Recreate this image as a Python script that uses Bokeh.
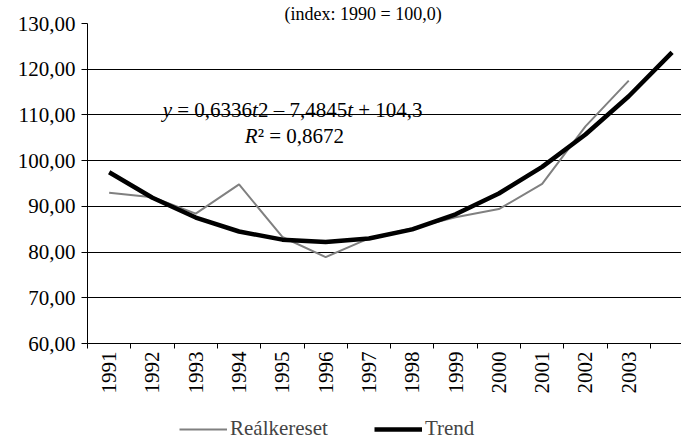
import math
from bokeh.plotting import figure
from bokeh.layouts import column
from bokeh.models import FixedTicker, Label, Legend, LegendItem, Range1d
from bokeh.embed import file_html
from bokeh.resources import INLINE

# ---------------- data ----------------
years = ["1991", "1992", "1993", "1994", "1995", "1996", "1997",
         "1998", "1999", "2000", "2001", "2002", "2003"]
t_real = list(range(1, 14))
realkereset = [93.0, 92.0, 88.4, 94.8, 83.3, 78.9, 83.0,
               85.2, 87.6, 89.4, 94.9, 107.5, 117.5]
t_trend = list(range(1, 15))
trend = [97.45, 91.87, 87.55, 84.50, 82.72, 82.20, 82.96,
         84.97, 88.26, 92.81, 98.64, 105.73, 114.08, 123.70]
y_ticks = [60, 70, 80, 90, 100, 110, 120, 130]
y_tick_labels = ["60,00", "70,00", "80,00", "90,00", "100,00", "110,00", "120,00", "130,00"]
title_text = "(index: 1990 = 100,0)"
series_names = ["Reálkereset", "Trend"]

FONT = "Liberation Serif"
FS = 21
GRAY = "#808080"

p = figure(width=681, height=409, output_backend="svg", toolbar_location=None,
           x_range=Range1d(0.5, 14.218), y_range=Range1d(60, 130),
           min_border_left=87, min_border_right=0, min_border_top=23, min_border_bottom=66)
p.outline_line_color = None
p.background_fill_color = "white"
p.border_fill_color = "white"

# title
p.title.text = title_text
p.title.text_font = FONT
p.title.text_font_size = "18px"
p.title.text_font_style = "normal"
p.title.text_color = "black"
p.title.align = "left"
p.title.offset = 197
p.title.standoff = 0

# y axis
p.yaxis.ticker = FixedTicker(ticks=y_ticks)
p.yaxis.major_label_overrides = {v: s for v, s in zip(y_ticks, y_tick_labels)}
p.yaxis.major_label_text_font = FONT
p.yaxis.major_label_text_font_size = f"{FS}px"
p.yaxis.major_label_text_color = "black"
p.yaxis.axis_line_color = "black"
p.yaxis.major_tick_line_color = "black"
p.yaxis.major_tick_out = 6
p.yaxis.major_tick_in = 0
p.yaxis.minor_tick_line_color = None
p.yaxis.major_label_standoff = 6

# x axis
p.xaxis.ticker = FixedTicker(ticks=t_trend, minor_ticks=[k + 0.5 for k in range(0, 14)])
overrides = {t: y for t, y in zip(t_real, years)}
overrides[14] = ""
p.xaxis.major_label_overrides = overrides
p.xaxis.major_label_orientation = math.pi / 2
p.xaxis.major_label_text_font = FONT
p.xaxis.major_label_text_font_size = f"{FS}px"
p.xaxis.major_label_text_color = "black"
p.xaxis.major_tick_line_color = None
p.xaxis.major_tick_out = 0
p.xaxis.major_tick_in = 0
p.xaxis.minor_tick_line_color = "black"
p.xaxis.minor_tick_out = 5
p.xaxis.minor_tick_in = 0
p.xaxis.axis_line_color = "black"
p.xaxis.major_label_standoff = 3

p.xgrid.visible = False
p.ygrid.ticker = FixedTicker(ticks=y_ticks)
p.ygrid.grid_line_color = "black"
p.ygrid.grid_line_width = 1

p.line(t_real, realkereset, line_color=GRAY, line_width=2)
p.line(t_trend, trend, line_color="black", line_width=4.5, line_join="round")

# equation text (mixed italic / normal)
em = FS
eq_parts = [("y", "italic", 0.0), ("= 0,6336", "normal", 0.694), ("t", "italic", 4.258),
            ("2 – 7,4845", "normal", 4.536), ("t", "italic", 8.786), ("+ 104,3", "normal", 9.314)]
for txt, style, off in eq_parts:
    p.add_layout(Label(x=2.235, y=111.13, x_offset=off * em, text=txt,
                       text_font=FONT, text_font_size=f"{FS}px", text_font_style=style,
                       text_color="black", text_align="left", text_baseline="alphabetic"))
r2_parts = [("R", "italic", 0.0), ("² = 0,8672", "normal", 0.611)]
for txt, style, off in r2_parts:
    p.add_layout(Label(x=4.133, y=105.5, x_offset=off * em, text=txt,
                       text_font=FONT, text_font_size=f"{FS}px", text_font_style=style,
                       text_color="black", text_align="left", text_baseline="alphabetic"))

# ---------------- legend strip ----------------
lg = figure(width=681, height=30, output_backend="svg", toolbar_location=None,
            x_axis_type=None, y_axis_type=None,
            x_range=Range1d(-20, -19), y_range=Range1d(-20, -19),
            min_border_left=0, min_border_right=0, min_border_top=0, min_border_bottom=0)
lg.outline_line_color = None
lg.xgrid.visible = False
lg.ygrid.visible = False
# series drawn out of view here; they only feed the legend swatches
l1 = lg.line(t_real, realkereset, line_color=GRAY, line_width=2)
l2 = lg.line(t_trend, trend, line_color="black", line_width=4.5)
legend = Legend(items=[LegendItem(label=series_names[0], renderers=[l1]),
                       LegendItem(label=series_names[1], renderers=[l2])],
                orientation="horizontal", location=(92, -2),
                glyph_width=48, glyph_height=24, label_standoff=3, spacing=46,
                padding=0, margin=0, border_line_color=None, background_fill_alpha=0,
                label_text_font=FONT, label_text_font_size=f"{FS}px", label_height=24)
lg.add_layout(legend, "center")

open("out.html", "w").write(file_html(column(p, lg, spacing=0), INLINE))
